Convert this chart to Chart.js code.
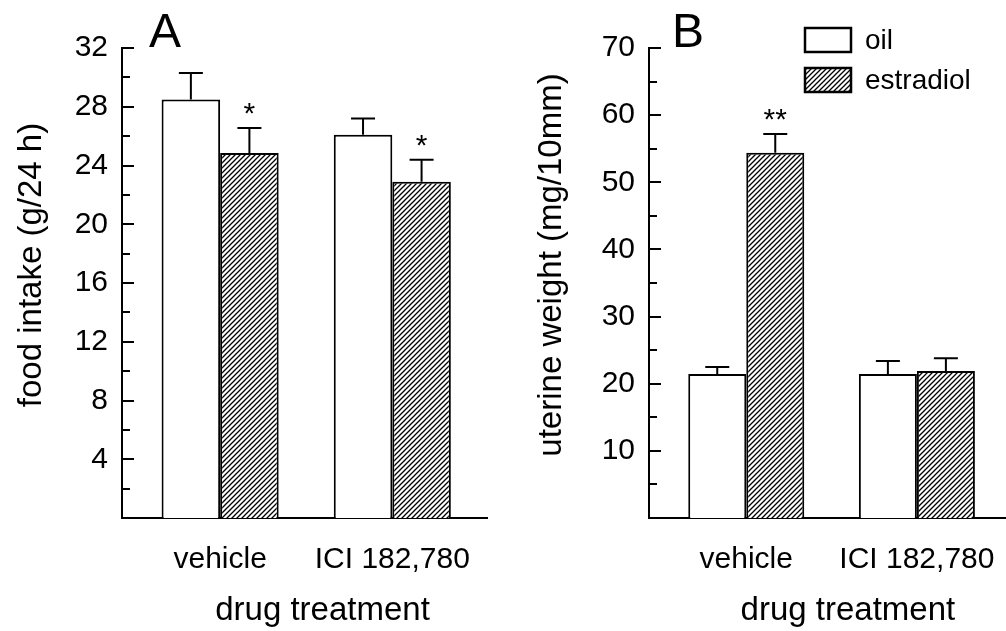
<!DOCTYPE html>
<html>
<head>
<meta charset="utf-8">
<script src="https://cdn.jsdelivr.net/npm/chart.js@4.4.1/dist/chart.umd.min.js"></script>
<style>
  html, body { margin: 0; padding: 0; width: 1006px; height: 631px; overflow: hidden; background: #fff; }
  #chartA { position: absolute; left: 0; top: 0; }
  #chartB { position: absolute; left: 500px; top: 0; }
</style>
</head>
<body>
<canvas id="chartA" width="500" height="631"></canvas>
<canvas id="chartB" width="520" height="631"></canvas>
<script>
// categories / series
const groups = ['vehicle', 'ICI 182,780'];
const seriesNames = ['oil', 'estradiol'];

// A: food intake (g/24 h)
const foodOil = [28.5, 26.1];
const foodOilErr = [1.8, 1.1];
const foodE2 = [24.85, 22.9];
const foodE2Err = [1.7, 1.5];
const foodE2Marks = ['*', '*'];
const foodMax = 32, foodStep = 4;

// B: uterine weight (mg/10mm)
const uterOil = [21.45, 21.45];
const uterOilErr = [1.05, 1.95];
const uterE2 = [54.4, 21.9];
const uterE2Err = [2.8, 1.9];
const uterE2Marks = ['**', ''];
const uterMax = 70, uterStep = 10;

const FONT = "'Liberation Sans', Arial, sans-serif";
Chart.defaults.font.family = FONT;
Chart.defaults.color = '#000';

// diagonal hatch fill
function makeHatch() {
  const c = document.createElement('canvas');
  c.width = 5; c.height = 5;
  const g = c.getContext('2d');
  g.fillStyle = '#fff';
  g.fillRect(0, 0, 5, 5);
  g.strokeStyle = '#000';
  g.lineWidth = 1.3;
  g.beginPath();
  g.moveTo(0, 5); g.lineTo(5, 0);
  g.moveTo(-1, 1); g.lineTo(1, -1);
  g.moveTo(4, 6); g.lineTo(6, 4);
  g.stroke();
  return document.createElement('canvas').getContext('2d').createPattern(c, 'repeat');
}
const hatch = makeHatch();

const toPoints = arr => arr.map((v, i) => ({ x: i + 1, y: v }));

// ticks pointing into the plot, with minor ticks between
const innerTicks = {
  id: 'innerTicks',
  afterDraw(chart, args, opts) {
    const y = chart.scales.y, a = chart.chartArea, ctx = chart.ctx;
    const half = opts.step / 2;
    ctx.save();
    ctx.strokeStyle = '#000';
    ctx.lineWidth = 2;
    for (let k = 1; k * half <= y.max + 1e-9; k++) {
      const py = Math.round(y.getPixelForValue(k * half));
      ctx.beginPath();
      ctx.moveTo(a.left, py);
      ctx.lineTo(a.left + (k % 2 === 0 ? 12 : 8), py);
      ctx.stroke();
    }
    ctx.restore();
  }
};

// upward error bars + significance stars
const errorBars = {
  id: 'errorBars',
  afterDatasetsDraw(chart) {
    const ctx = chart.ctx, y = chart.scales.y;
    ctx.save();
    ctx.strokeStyle = '#000';
    ctx.fillStyle = '#000';
    ctx.lineWidth = 2;
    ctx.font = '30px ' + FONT;
    ctx.textAlign = 'center';
    ctx.textBaseline = 'alphabetic';
    chart.data.datasets.forEach((ds, i) => {
      chart.getDatasetMeta(i).data.forEach((bar, j) => {
        const top = y.getPixelForValue(ds.data[j].y + ds.errors[j]);
        ctx.beginPath();
        ctx.moveTo(bar.x, bar.y);
        ctx.lineTo(bar.x, top);
        ctx.moveTo(bar.x - 12, top);
        ctx.lineTo(bar.x + 12, top);
        ctx.stroke();
        if (ds.marks && ds.marks[j]) ctx.fillText(ds.marks[j], bar.x, top - 5);
      });
    });
    ctx.restore();
  }
};

// axis titles, panel letter, boxed legend
const panelDecor = {
  id: 'panelDecor',
  afterDraw(chart, args, opts) {
    const ctx = chart.ctx, a = chart.chartArea;
    ctx.save();
    ctx.fillStyle = '#000';
    ctx.textAlign = 'center';
    ctx.textBaseline = 'middle';
    ctx.font = '33px ' + FONT;
    ctx.fillText(opts.xTitle, (a.left + a.right) / 2 + 18, 611);
    ctx.save();
    ctx.translate(opts.yTitleX, (a.top + a.bottom) / 2 - 18);
    ctx.rotate(-Math.PI / 2);
    ctx.fillText(opts.yTitle, 0, 0);
    ctx.restore();

    ctx.font = '48px ' + FONT;
    ctx.textBaseline = 'alphabetic';
    ctx.fillText(opts.letter, a.left + opts.letterDx, 47);

    if (opts.legend) {
      ctx.font = '28px ' + FONT;
      ctx.textAlign = 'left';
      ctx.textBaseline = 'middle';
      ctx.lineWidth = 2.5;
      chart.data.datasets.forEach((ds, i) => {
        const x = a.left + 156, yy = a.top - 20 + i * 40;
        ctx.fillStyle = ds.backgroundColor;
        ctx.fillRect(x, yy, 46, 24);
        ctx.strokeStyle = '#000';
        ctx.strokeRect(x, yy, 46, 24);
        ctx.fillStyle = '#000';
        ctx.fillText(ds.label, x + 60, yy + 13);
      });
    }
    ctx.restore();
  }
};

function makePanel(canvasId, oil, oilErr, e2, e2Err, e2Marks, yMax, yStep, yTitle, yWidth, yTitleX, rightPad, letter, letterDx, legend) {
  return new Chart(document.getElementById(canvasId), {
    type: 'bar',
    data: {
      datasets: [
        { label: seriesNames[0], data: toPoints(oil), errors: oilErr,
          backgroundColor: '#fff', borderColor: '#000', borderWidth: 2 },
        { label: seriesNames[1], data: toPoints(e2), errors: e2Err, marks: e2Marks,
          backgroundColor: hatch, borderColor: '#000', borderWidth: 2 }
      ]
    },
    options: {
      responsive: false,
      animation: false,
      categoryPercentage: 0.68,
      barPercentage: 1,
      layout: { padding: { left: 0, top: 48, right: rightPad, bottom: 0 } },
      plugins: {
        legend: { display: false },
        tooltip: { enabled: false },
        innerTicks: { step: yStep },
        panelDecor: { letter: letter, letterDx: letterDx, legend: legend,
                      xTitle: 'drug treatment', yTitle: yTitle, yTitleX: yTitleX }
      },
      scales: {
        x: {
          type: 'linear',
          offset: false,
          min: 0.43,
          max: 2.55,
          afterBuildTicks: s => { s.ticks = s.ticks.filter(t => Number.isInteger(t.value)); },
          afterFit: s => { s.height = 113; },
          ticks: { stepSize: 1, includeBounds: false, autoSkip: false, maxRotation: 0,
                   padding: 24, font: { size: 30 }, callback: v => groups[v - 1] },
          grid: { display: false, drawTicks: false, offset: false },
          border: { color: '#000', width: 2 }
        },
        y: {
          min: 0,
          max: yMax,
          afterFit: s => { s.width = yWidth; },
          ticks: { stepSize: yStep, padding: 14, font: { size: 30 },
                   callback: v => (v === 0 ? '' : v) },
          grid: { display: false, drawTicks: false },
          border: { color: '#000', width: 2 }
        }
      }
    },
    plugins: [innerTicks, errorBars, panelDecor]
  });
}

makePanel('chartA', foodOil, foodOilErr, foodE2, foodE2Err, foodE2Marks,
          foodMax, foodStep, 'food intake (g/24 h)', 122, 32, 13, 'A', 43, false);
makePanel('chartB', uterOil, uterOilErr, uterE2, uterE2Err, uterE2Marks,
          uterMax, uterStep, 'uterine weight (mg/10mm)', 149, 52, 6, 'B', 39, true);
</script>
</body>
</html>
